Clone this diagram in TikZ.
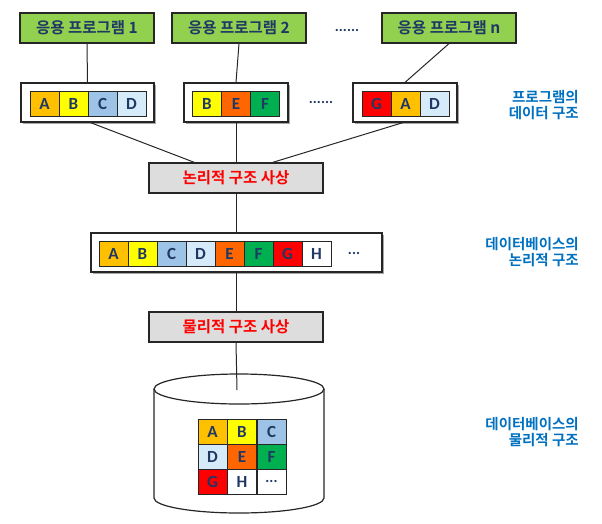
\documentclass[tikz,border=0pt]{standalone}
\usepackage{fontspec}
\usetikzlibrary{shadows}
\setmainfont{Carlito}
\newfontfamily\kr{Noto Sans CJK KR}[BoldFont={Noto Sans CJK KR Bold}]
\definecolor{cA}{HTML}{FFC000}
\definecolor{cB}{HTML}{FFFF00}
\definecolor{cC}{HTML}{9DC3E6}
\definecolor{cD}{HTML}{D6EBFA}
\definecolor{cE}{HTML}{FF6600}
\definecolor{cF}{HTML}{00B050}
\definecolor{cG}{HTML}{FF0000}
\definecolor{cH}{HTML}{FFFFFF}
\definecolor{pgreen}{HTML}{92D050}
\definecolor{navy}{HTML}{1F3864}
\definecolor{lblue}{HTML}{0070C0}
\definecolor{mapgray}{HTML}{DDDDDD}
\begin{document}
\begin{tikzpicture}[x=1pt,y=-1pt,
  prog/.style={draw=black!85, line width=1.2pt, fill=pgreen, minimum width=134pt, minimum height=30pt, inner sep=0pt,
    font=\kr\bfseries\fontsize{15.5}{17}\selectfont, text=navy},
  holder/.style={draw=black!85, line width=1.2pt, fill=white, minimum height=39pt, inner sep=0pt,
    drop shadow={shadow xshift=1.5pt, shadow yshift=-1.5pt, fill=black!35, opacity=1}},
  cell/.style={draw=black!85, line width=1pt, minimum width=29pt, minimum height=25pt, inner sep=0pt,
    font=\bfseries\fontsize{17}{17}\selectfont, text=navy},
  mapbox/.style={draw=black!85, line width=1.2pt, fill=mapgray, minimum width=174pt, minimum height=30pt, inner sep=0pt,
    font=\kr\bfseries\fontsize{15.5}{17}\selectfont, text=red},
  side/.style={align=right, anchor=east, inner sep=0pt, font=\kr\bfseries\fontsize{14.5}{16.5}\selectfont, text=lblue},
  dots/.style={inner sep=0pt, font=\bfseries\fontsize{15}{15}\selectfont, text=navy},
  conn/.style={draw=black!85, line width=1pt}]
\useasboundingbox (0,0) rectangle (602,523);

% application programs
\node[prog] (g1) at (87,28) {응용 프로그램 1};
\node[prog] (g2) at (239,28) {응용 프로그램 2};
\node[prog] (gn) at (449,28) {응용 프로그램 n};
\node[dots] (gdots) at (347,30) {......};

% program data structures
\node[holder, minimum width=133pt] (d1) at (87.5,102.5) {};
\node[holder, minimum width=104pt] (d2) at (236,102.5) {};
\node[holder, minimum width=104pt] (dn) at (405,102.5) {};
\node[dots] (ddots) at (321,102) {......};

\node[cell, fill=cA] (d1a) at (44.5,103.5) {A};
\node[cell, fill=cB] (d1b) at (73.5,103.5) {B};
\node[cell, fill=cC] (d1c) at (102.5,103.5) {C};
\node[cell, fill=cD] (d1d) at (131.5,103.5) {D};

\node[cell, fill=cB] (d2b) at (207,103.5) {B};
\node[cell, fill=cE] (d2e) at (236,103.5) {E};
\node[cell, fill=cF] (d2f) at (265,103.5) {F};

\node[cell, fill=cG] (dng) at (376.5,103.5) {G};
\node[cell, fill=cA] (dna) at (405.5,103.5) {A};
\node[cell, fill=cD] (dnd) at (434.5,103.5) {D};

% logical mapping
\node[mapbox] (map1) at (236,178) {논리적 구조 사상};

% DB logical structure
\node[holder, minimum width=291pt] (dbl) at (236.5,252.5) {};
\node[cell, fill=cA] (la) at (113.5,254) {A};
\node[cell, fill=cB] (lb) at (142.5,254) {B};
\node[cell, fill=cC] (lc) at (171.5,254) {C};
\node[cell, fill=cD] (ld) at (200.5,254) {D};
\node[cell, fill=cE] (le) at (229.5,254) {E};
\node[cell, fill=cF] (lf) at (258.5,254) {F};
\node[cell, fill=cG] (lg) at (287.5,254) {G};
\node[cell, fill=cH] (lh) at (316.5,254) {H};
\node[dots] (ldots) at (354,253) {...};

% physical mapping
\node[mapbox] (map2) at (236,327) {물리적 구조 사상};

% cylinder
\draw[line width=1.2pt, draw=black!85, fill=white] (154,389) -- (154,498) arc[start angle=180, end angle=0, x radius=85, y radius=15] -- (324,389);
\draw[line width=1.2pt, draw=black!85, fill=white] (239,389) ellipse [x radius=85, y radius=15];
\coordinate (ctop) at (237,390);

% physical grid
\node[cell, fill=cA] (pa) at (212.5,431.5) {A};
\node[cell, fill=cB] (pb) at (242,431.5) {B};
\node[cell, fill=cC] (pc) at (271.5,431.5) {C};
\node[cell, fill=cD] (pd) at (212.5,456.5) {D};
\node[cell, fill=cE] (pe) at (242,456.5) {E};
\node[cell, fill=cF] (pf) at (271.5,456.5) {F};
\node[cell, fill=cG] (pg) at (212.5,481.5) {G};
\node[cell, fill=cH] (ph) at (242,481.5) {H};
\node[cell, fill=cH, font=\bfseries\fontsize{15}{15}\selectfont] (pdots) at (271.5,481.5) {...};

% side labels
\node[side] (s1) at (579,105) {프로그램의\\데이터 구조};
\node[side] (s2) at (579,252) {데이터베이스의\\논리적 구조};
\node[side] (s3) at (579,432) {데이터베이스의\\물리적 구조};

% connectors
\draw[conn] (g1.south) -- (d1.north);
\draw[conn] (g2.south) -- (d2.north);
\draw[conn] (gn.south) -- (dn.north);
\draw[conn] ([xshift=3pt]d1.south) -- ([xshift=46pt]map1.north west);
\draw[conn] (d2.south) -- (map1.north);
\draw[conn] ([xshift=-2pt]dn.south) -- ([xshift=-51pt]map1.north east);
\draw[conn] (map1.south) -- (dbl.north -| map1.south);
\draw[conn] (dbl.south -| map2.north) -- (map2.north);
\draw[conn] (map2.south) -- (ctop);
\end{tikzpicture}
\end{document}
